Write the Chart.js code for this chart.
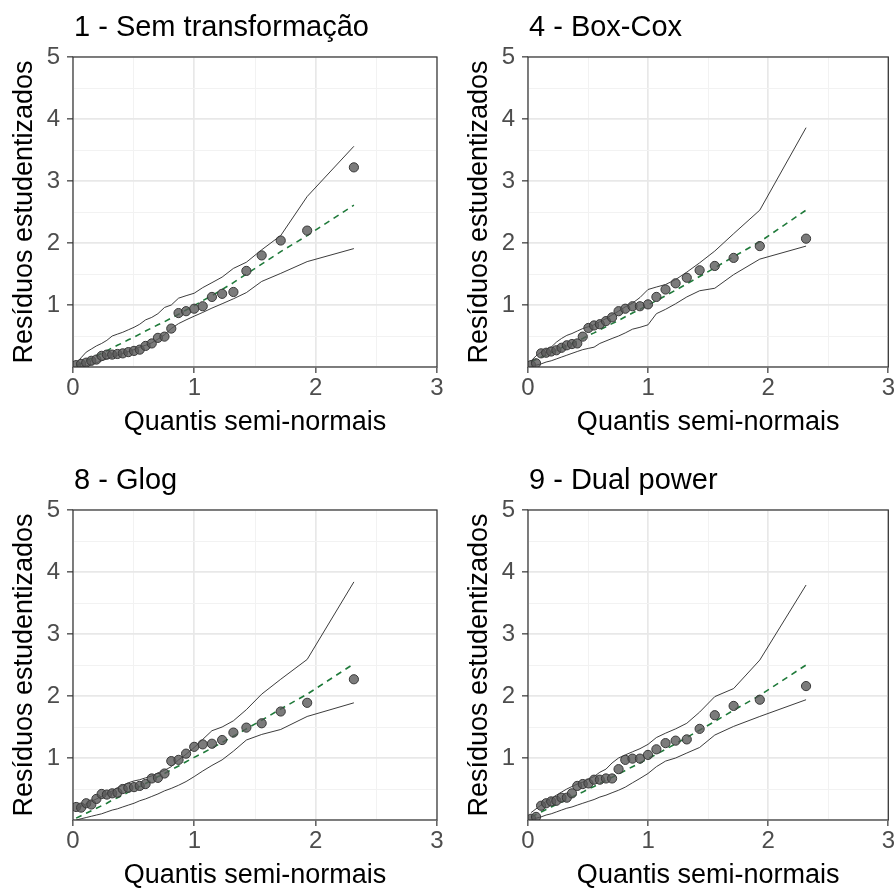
<!DOCTYPE html>
<html>
<head>
<meta charset="utf-8">
<script src="https://cdn.jsdelivr.net/npm/chart.js@4.4.1/dist/chart.umd.min.js"></script>
<style>
  html, body { margin: 0; padding: 0; background: #fff; overflow: hidden; }
  body { width: 896px; height: 891px; position: relative; }
  canvas { position: absolute; }
</style>
</head>
<body>
<canvas id="g1" width="448" height="445" style="left:0;top:0"></canvas>
<canvas id="g2" width="441" height="445" style="left:455px;top:0"></canvas>
<canvas id="g3" width="448" height="445" style="left:0;top:453px"></canvas>
<canvas id="g4" width="441" height="445" style="left:455px;top:453px"></canvas>
<script>
// quantis semi-normais (eixo x, n = 30)
const quantis = [0.026, 0.067, 0.109, 0.151, 0.193, 0.236, 0.279, 0.323, 0.366, 0.410,
                 0.456, 0.503, 0.550, 0.598, 0.649, 0.700, 0.754, 0.810, 0.870, 0.932,
                 0.999, 1.069, 1.145, 1.229, 1.322, 1.429, 1.555, 1.712, 1.930, 2.315];

const titulos = ['1 - Sem transformação', '4 - Box-Cox', '8 - Glog', '9 - Dual power'];
const ticksX = [0, 1, 2, 3];
const ticksY = [1, 2, 3, 4, 5];

// 1 - Sem transformação
const residuos1 = [0.03, 0.05, 0.07, 0.10, 0.12, 0.18, 0.20, 0.20, 0.21, 0.22,
                   0.24, 0.26, 0.28, 0.34, 0.38, 0.47, 0.49, 0.62, 0.87, 0.90,
                   0.94, 0.98, 1.13, 1.18, 1.21, 1.55, 1.80, 2.04, 2.20, 3.22];
const inferior1 = [0.00, 0.01, 0.02, 0.04, 0.07, 0.10, 0.13, 0.16, 0.19, 0.22,
                   0.25, 0.28, 0.32, 0.35, 0.39, 0.45, 0.52, 0.62, 0.70, 0.76,
                   0.82, 0.88, 0.95, 1.02, 1.10, 1.20, 1.38, 1.51, 1.70, 1.91];
const media1 = [0.02, 0.06, 0.10, 0.14, 0.18, 0.22, 0.26, 0.31, 0.35, 0.39,
                0.44, 0.48, 0.53, 0.58, 0.63, 0.68, 0.73, 0.79, 0.85, 0.92,
                0.99, 1.07, 1.15, 1.25, 1.36, 1.50, 1.66, 1.86, 2.12, 2.61];
const superior1 = [0.06, 0.15, 0.24, 0.29, 0.34, 0.38, 0.43, 0.50, 0.53, 0.56,
                   0.60, 0.64, 0.69, 0.76, 0.80, 0.86, 0.96, 1.00, 1.11, 1.15,
                   1.19, 1.28, 1.36, 1.45, 1.59, 1.69, 1.89, 2.12, 2.75, 3.56];

// 4 - Box-Cox
const residuos2 = [0.03, 0.06, 0.22, 0.23, 0.25, 0.27, 0.31, 0.35, 0.37, 0.38,
                   0.49, 0.63, 0.67, 0.69, 0.74, 0.80, 0.90, 0.94, 0.98, 0.98,
                   1.01, 1.13, 1.25, 1.35, 1.44, 1.56, 1.63, 1.76, 1.95, 2.07];
const inferior2 = [0.00, 0.03, 0.05, 0.08, 0.10, 0.13, 0.16, 0.19, 0.22, 0.25,
                   0.28, 0.30, 0.32, 0.38, 0.42, 0.46, 0.50, 0.55, 0.61, 0.64,
                   0.68, 0.86, 0.93, 1.02, 1.13, 1.23, 1.27, 1.49, 1.74, 1.95];
const media2 = [0.08, 0.12, 0.16, 0.19, 0.23, 0.27, 0.31, 0.35, 0.38, 0.42,
                0.46, 0.51, 0.55, 0.60, 0.65, 0.70, 0.75, 0.81, 0.87, 0.93,
                1.00, 1.07, 1.15, 1.24, 1.34, 1.46, 1.60, 1.78, 2.02, 2.53];
const superior2 = [0.10, 0.18, 0.24, 0.29, 0.32, 0.40, 0.46, 0.51, 0.54, 0.58,
                   0.62, 0.65, 0.68, 0.73, 0.78, 0.84, 0.90, 0.97, 1.03, 1.12,
                   1.25, 1.29, 1.33, 1.41, 1.53, 1.68, 1.87, 2.15, 2.53, 3.86];

// 8 - Glog
const residuos3 = [0.21, 0.20, 0.27, 0.25, 0.34, 0.42, 0.41, 0.43, 0.44, 0.50,
                   0.52, 0.53, 0.55, 0.58, 0.67, 0.68, 0.75, 0.95, 0.97, 1.07,
                   1.18, 1.22, 1.23, 1.29, 1.41, 1.49, 1.56, 1.75, 1.89, 2.27];
const inferior3 = [0.00, 0.02, 0.04, 0.06, 0.08, 0.10, 0.13, 0.16, 0.18, 0.21,
                   0.24, 0.27, 0.31, 0.34, 0.38, 0.42, 0.47, 0.51, 0.56, 0.62,
                   0.70, 0.79, 0.88, 0.97, 1.11, 1.29, 1.38, 1.46, 1.67, 1.89];
const media3 = [0.03, 0.07, 0.11, 0.15, 0.19, 0.23, 0.27, 0.32, 0.36, 0.40,
                0.45, 0.50, 0.54, 0.59, 0.64, 0.70, 0.75, 0.81, 0.87, 0.94,
                1.01, 1.08, 1.16, 1.25, 1.35, 1.47, 1.61, 1.79, 2.03, 2.52];
const superior3 = [0.18, 0.22, 0.26, 0.30, 0.34, 0.38, 0.42, 0.47, 0.52, 0.56,
                   0.60, 0.63, 0.65, 0.68, 0.71, 0.76, 0.80, 0.86, 0.97, 1.06,
                   1.17, 1.30, 1.44, 1.50, 1.60, 1.78, 2.03, 2.27, 2.59, 3.84];

// 9 - Dual power
const residuos4 = [0.02, 0.05, 0.23, 0.27, 0.30, 0.31, 0.36, 0.36, 0.43, 0.55,
                   0.58, 0.59, 0.65, 0.65, 0.67, 0.67, 0.82, 0.97, 0.99, 0.99,
                   1.05, 1.14, 1.24, 1.28, 1.30, 1.47, 1.69, 1.84, 1.94, 2.16];
const inferior4 = [0.00, 0.03, 0.05, 0.08, 0.10, 0.13, 0.16, 0.19, 0.21, 0.24,
                   0.27, 0.30, 0.33, 0.37, 0.40, 0.44, 0.48, 0.53, 0.60, 0.67,
                   0.75, 0.86, 0.95, 1.00, 1.08, 1.17, 1.37, 1.51, 1.67, 1.94];
const media4 = [0.05, 0.09, 0.13, 0.17, 0.21, 0.25, 0.29, 0.33, 0.37, 0.41,
                0.45, 0.50, 0.54, 0.59, 0.64, 0.69, 0.74, 0.80, 0.86, 0.92,
                0.99, 1.06, 1.14, 1.23, 1.33, 1.45, 1.59, 1.77, 2.01, 2.50];
const superior4 = [0.12, 0.18, 0.24, 0.30, 0.35, 0.40, 0.45, 0.50, 0.54, 0.58,
                   0.61, 0.66, 0.70, 0.77, 0.82, 0.92, 1.00, 1.05, 1.10, 1.15,
                   1.22, 1.33, 1.40, 1.47, 1.56, 1.74, 1.99, 2.12, 2.58, 3.79];

const fonte = '"Liberation Sans", Arial, sans-serif';

// título do painel + moldura (theme_bw)
const molduraPlugin = {
    id: 'moldura',
    afterDraw(chart, args, opts) {
        const { ctx, chartArea: a } = chart;
        ctx.save();
        ctx.strokeStyle = '#333333';
        ctx.lineWidth = 1.2;
        ctx.strokeRect(a.left, a.top, a.right - a.left, a.bottom - a.top);
        ctx.fillStyle = '#000000';
        ctx.font = '29px ' + fonte;
        ctx.textBaseline = 'middle';
        ctx.textAlign = 'left';
        ctx.fillText(opts.texto, a.left + 1, 28);
        ctx.restore();
    }
};

function pares(ys) {
    return quantis.map((x, i) => ({ x: x, y: ys[i] }));
}

function corGrade(ctx) {
    return Number.isInteger(ctx.tick.value) ? '#e8e8e8' : '#f2f2f2';
}
function larguraGrade(ctx) {
    return Number.isInteger(ctx.tick.value) ? 1.7 : 1;
}

function criaGrafico(id, titulo, residuos, inferior, media, superior, direita) {
    const ctx = document.getElementById(id).getContext('2d');
    return new Chart(ctx, {
        type: 'scatter',
        data: {
            datasets: [
                {
                    label: 'Resíduos',
                    data: pares(residuos),
                    pointRadius: 4.6,
                    pointBackgroundColor: 'rgba(90, 90, 90, 0.8)',
                    pointBorderColor: '#383838',
                    pointBorderWidth: 1,
                    order: 0
                },
                {
                    label: 'Média',
                    data: pares(media),
                    showLine: true,
                    pointRadius: 0,
                    borderColor: '#1f7a3a',
                    borderWidth: 1.6,
                    borderDash: [6, 5],
                    order: 1
                },
                {
                    label: 'Inferior',
                    data: pares(inferior),
                    showLine: true,
                    pointRadius: 0,
                    borderColor: '#262626',
                    borderWidth: 0.9,
                    order: 2
                },
                {
                    label: 'Superior',
                    data: pares(superior),
                    showLine: true,
                    pointRadius: 0,
                    borderColor: '#262626',
                    borderWidth: 0.9,
                    order: 2
                }
            ]
        },
        options: {
            responsive: false,
            animation: false,
            events: [],
            layout: { padding: { top: 57, right: direita, bottom: 0, left: 0 } },
            plugins: {
                legend: { display: false },
                tooltip: { enabled: false },
                moldura: { texto: titulo }
            },
            scales: {
                x: {
                    type: 'linear',
                    min: 0,
                    max: 3,
                    afterFit: (s) => { s.height = 78; },
                    afterBuildTicks: (s) => {
                        s.ticks = [];
                        for (let v = 0; v <= 3; v += 0.5) s.ticks.push({ value: v });
                    },
                    ticks: {
                        autoSkip: false,
                        maxRotation: 0,
                        padding: 1,
                        color: '#4d4d4d',
                        font: { family: fonte, size: 24 },
                        callback: (v) => ticksX.includes(v) ? String(v) : ''
                    },
                    grid: {
                        color: corGrade,
                        lineWidth: larguraGrade,
                        tickLength: 6,
                        tickColor: (c) => ticksX.includes(c.tick.value) ? '#333333' : 'rgba(0,0,0,0)',
                        tickWidth: 1.2
                    },
                    border: { display: false },
                    title: {
                        display: true,
                        text: 'Quantis semi-normais',
                        color: '#000000',
                        font: { family: fonte, size: 27 },
                        padding: { top: 0, bottom: 6 }
                    }
                },
                y: {
                    type: 'linear',
                    min: 0,
                    max: 5,
                    afterFit: (s) => { s.width = 73; },
                    afterBuildTicks: (s) => {
                        s.ticks = [];
                        for (let v = 0; v <= 5; v += 0.5) s.ticks.push({ value: v });
                    },
                    ticks: {
                        autoSkip: false,
                        padding: 7,
                        color: '#4d4d4d',
                        font: { family: fonte, size: 24 },
                        callback: (v) => ticksY.includes(v) ? String(v) : ''
                    },
                    grid: {
                        color: corGrade,
                        lineWidth: larguraGrade,
                        tickLength: 6,
                        tickColor: (c) => ticksY.includes(c.tick.value) ? '#333333' : 'rgba(0,0,0,0)',
                        tickWidth: 1.2
                    },
                    border: { display: false },
                    title: {
                        display: true,
                        text: 'Resíduos estudentizados',
                        color: '#000000',
                        font: { family: fonte, size: 27 },
                        padding: { top: 8, bottom: 0 }
                    }
                }
            }
        },
        plugins: [molduraPlugin]
    });
}

criaGrafico('g1', titulos[0], residuos1, inferior1, media1, superior1, 11);
criaGrafico('g2', titulos[1], residuos2, inferior2, media2, superior2, 4);
criaGrafico('g3', titulos[2], residuos3, inferior3, media3, superior3, 11);
criaGrafico('g4', titulos[3], residuos4, inferior4, media4, superior4, 4);
</script>
</body>
</html>
